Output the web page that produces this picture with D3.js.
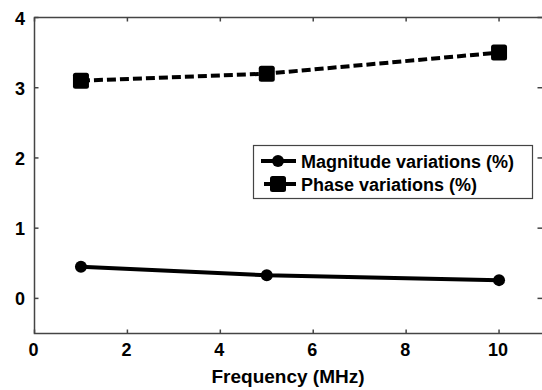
<!DOCTYPE html>
<html><head><meta charset="utf-8">
<script src="https://cdn.jsdelivr.net/npm/d3@7"></script>
<style>body{margin:0;background:#fff}svg{display:block}</style>
</head><body><svg id="c" width="542" height="390"></svg>
<script>
const freq = [1, 5, 10];
const magnitude = [0.45, 0.33, 0.26];
const phase = [3.1, 3.2, 3.5];
const xTicks = [0, 2, 4, 6, 8, 10];
const yTicks = [0, 1, 2, 3, 4];
const seriesNames = ["Magnitude variations (%)", "Phase variations (%)"];
const xLabel = "Frequency (MHz)";

const svg = d3.select("#c");
const x = d3.scaleLinear().domain([0, 11]).range([34.5, 545.5]);
const y = d3.scaleLinear().domain([-0.5, 4]).range([333.5, 17.5]);
const font = "Arial, 'Liberation Sans', sans-serif";
const axisCol = "#444";

// frame
svg.append("rect").attr("x", x(0)).attr("y", y(4)).attr("width", x(11) - x(0)).attr("height", y(-0.5) - y(4))
  .attr("fill", "none").attr("stroke", axisCol).attr("stroke-width", 1.5);

const tl = 4;
xTicks.forEach(t => {
  svg.append("line").attr("x1", x(t)).attr("x2", x(t)).attr("y1", y(-0.5)).attr("y2", y(-0.5) - tl).attr("stroke", axisCol).attr("stroke-width", 1.5);
  svg.append("line").attr("x1", x(t)).attr("x2", x(t)).attr("y1", y(4)).attr("y2", y(4) + tl).attr("stroke", axisCol).attr("stroke-width", 1.5);
  svg.append("text").attr("x", x(t) - 1).attr("y", y(-0.5) + 22).attr("text-anchor", "middle")
    .attr("font-family", font).attr("font-weight", "bold").attr("font-size", 18).text(t);
});
yTicks.forEach(t => {
  svg.append("line").attr("x1", x(0)).attr("x2", x(0) + tl).attr("y1", y(t)).attr("y2", y(t)).attr("stroke", axisCol).attr("stroke-width", 1.5);
  svg.append("line").attr("x1", x(11)).attr("x2", x(11) - tl - 4).attr("y1", y(t)).attr("y2", y(t)).attr("stroke", axisCol).attr("stroke-width", 1.5);
  svg.append("text").attr("x", x(0) - 9.5).attr("y", y(t) + 7).attr("text-anchor", "end")
    .attr("font-family", font).attr("font-weight", "bold").attr("font-size", 18).text(t);
});

svg.append("text").attr("x", 288).attr("y", 383).attr("text-anchor", "middle")
  .attr("font-family", font).attr("font-weight", "bold").attr("font-size", 19).text(xLabel);

const line = d3.line().x(d => x(d[0])).y(d => y(d[1]));
const magData = freq.map((f, i) => [f, magnitude[i]]);
const phData = freq.map((f, i) => [f, phase[i]]);

svg.append("path").attr("d", line(magData)).attr("fill", "none").attr("stroke", "#000").attr("stroke-width", 4);
svg.append("path").attr("d", line(phData)).attr("fill", "none").attr("stroke", "#000").attr("stroke-width", 4).attr("stroke-dasharray", "9,4");

svg.selectAll("circle.m").data(magData).enter().append("circle").attr("cx", d => x(d[0])).attr("cy", d => y(d[1])).attr("r", 6).attr("fill", "#000");
svg.selectAll("rect.p").data(phData).enter().append("rect").attr("x", d => x(d[0]) - 8).attr("y", d => y(d[1]) - 8)
  .attr("width", 16).attr("height", 16).attr("rx", 2.5).attr("fill", "#000");

// legend
const lg = svg.append("g");
lg.append("rect").attr("x", 253.5).attr("y", 145.5).attr("width", 279).attr("height", 53).attr("fill", "#fff").attr("stroke", axisCol).attr("stroke-width", 1.2);
lg.append("line").attr("x1", 261).attr("x2", 296).attr("y1", 161).attr("y2", 161).attr("stroke", "#000").attr("stroke-width", 4);
lg.append("circle").attr("cx", 278).attr("cy", 161).attr("r", 6).attr("fill", "#000");
lg.append("line").attr("x1", 264).attr("x2", 296).attr("y1", 184).attr("y2", 184).attr("stroke", "#000").attr("stroke-width", 4);
lg.append("rect").attr("x", 270).attr("y", 176).attr("width", 16).attr("height", 16).attr("rx", 2.5).attr("fill", "#000");
lg.append("text").attr("x", 301).attr("y", 168).attr("font-family", font).attr("font-weight", "bold").attr("font-size", 18).text(seriesNames[0]);
lg.append("text").attr("x", 301).attr("y", 191).attr("font-family", font).attr("font-weight", "bold").attr("font-size", 18).text(seriesNames[1]);
</script></body></html>
